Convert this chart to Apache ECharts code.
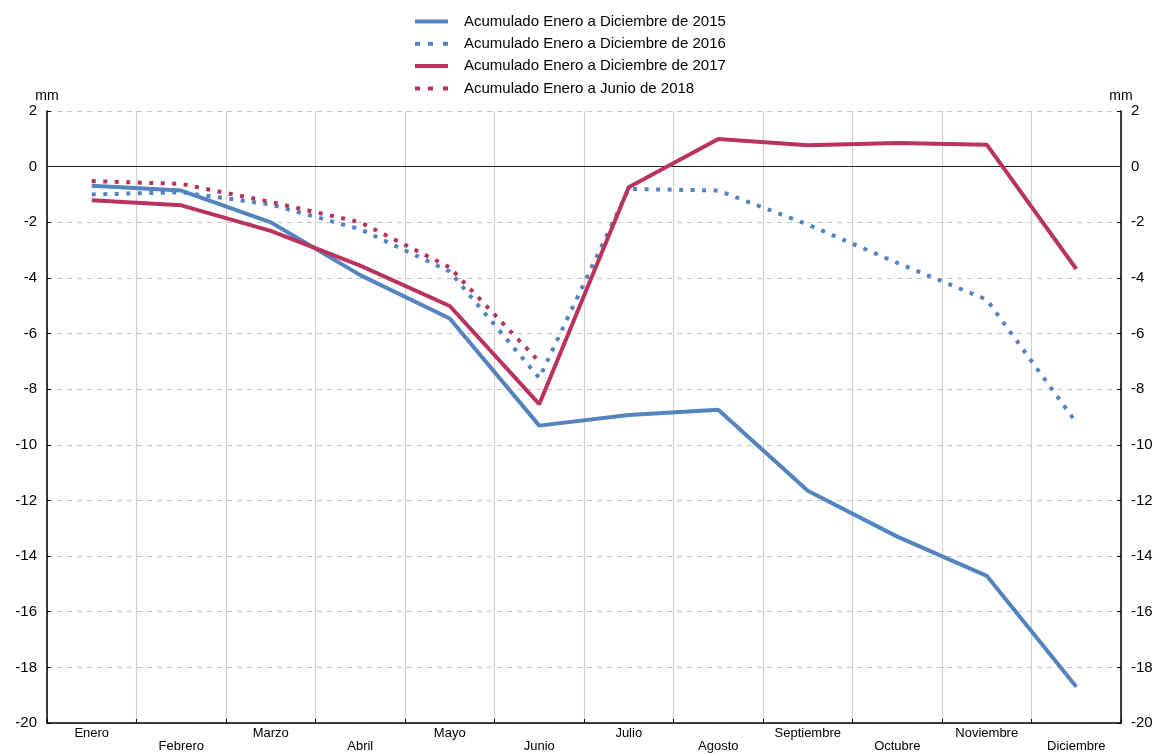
<!DOCTYPE html>
<html>
<head>
<meta charset="utf-8">
<script src="https://cdn.jsdelivr.net/npm/echarts@6/dist/echarts.min.js"></script>
<style>
html,body{margin:0;padding:0;background:#fff;}
#chart{width:1157px;height:753px;}
</style>
</head>
<body>
<div id="chart"></div>
<script>
var months = ['Enero','Febrero','Marzo','Abril','Mayo','Junio','Julio','Agosto','Septiembre','Octubre','Noviembre','Diciembre'];
var seriesNames = ['Acumulado Enero a Diciembre de 2015','Acumulado Enero a Diciembre de 2016','Acumulado Enero a Diciembre de 2017','Acumulado Enero a Junio de 2018'];
var v2015 = [-0.69, -0.86, -2.0, -3.9, -5.46, -9.31, -8.93, -8.74, -11.65, -13.3, -14.71, -18.7];
var v2016 = [-1.0, -0.92, -1.36, -2.25, -3.77, -7.6, -0.8, -0.86, -2.08, -3.46, -4.78, -9.2];
var v2017 = [-1.21, -1.39, -2.31, -3.56, -5.01, -8.54, -0.74, 0.99, 0.77, 0.85, 0.79, -3.68];
var v2018 = [-0.52, -0.62, -1.27, -2.0, -3.62, -7.01];
var yMin = -20, yMax = 2, yStep = 2;
var unitName = 'mm';

var blue = '#5484BF';
var red = '#B8345C';
var font = 'Liberation Sans, Arial, Helvetica, sans-serif';
var solidIcon = 'path://M0,0h33v4h-33z';
var dotIcon = 'path://M0,0h5v4h-5z M13,0h5v4h-5z M28,0h5v4h-5z';

function yAxisCfg(pos) {
  return {
    type: 'value', position: pos, min: yMin, max: yMax, interval: yStep,
    name: unitName, nameLocation: 'end', nameGap: -2,
    nameTextStyle: {color: '#000', fontSize: 14, fontFamily: font, align: 'center', padding: [0,0,0,0]},
    axisLine: {show: true, onZero: false, lineStyle: {color: '#000', width: 1.5}},
    axisTick: {show: true, inside: true, length: 4, lineStyle: {color: '#000'}},
    axisLabel: {color: '#000', fontSize: 15, fontFamily: font, margin: 10},
    splitLine: {show: pos === 'left', lineStyle: {color: '#c4c4c4', type: [5,5], width: 1}}
  };
}

function lineSeries(name, data, color, dotted) {
  return {
    name: name, type: 'line', data: data, symbol: 'none', smooth: false,
    yAxisIndex: 0,
    lineStyle: {color: color, width: 4, type: dotted ? [4, 7.5] : 'solid', cap: 'butt'},
    itemStyle: {color: color},
    z: 3
  };
}

var chart = echarts.init(document.getElementById('chart'), null, {renderer: 'canvas'});
var s0 = lineSeries(seriesNames[0], v2015, blue, false);
s0.markLine = {
  silent: true, symbol: ['none','none'], label: {show: false},
  lineStyle: {color: '#222', width: 1, type: 'solid'},
  data: [{yAxis: 0}], z: 1
};
chart.setOption({
  animation: false,
  backgroundColor: '#fff',
  textStyle: {fontFamily: font},
  legend: {
    orient: 'vertical', left: 415, top: 14, padding: 0,
    itemWidth: 33, itemHeight: 14, itemGap: 7.3, symbolKeepAspect: true,
    textStyle: {color: '#000', fontSize: 15, fontFamily: font, padding: [0,0,0,11]},
    data: [
      {name: seriesNames[0], icon: solidIcon},
      {name: seriesNames[1], icon: dotIcon},
      {name: seriesNames[2], icon: solidIcon},
      {name: seriesNames[3], icon: dotIcon}
    ]
  },
  grid: {left: 47, right: 36, top: 111, bottom: 26, containLabel: false},
  xAxis: {
    type: 'category', data: months, boundaryGap: true,
    axisLine: {show: true, onZero: false, lineStyle: {color: '#000', width: 1.5}},
    axisTick: {show: true, inside: true, length: 4, alignWithLabel: false, lineStyle: {color: '#000'}},
    axisLabel: {
      interval: 0, color: '#000', fontSize: 13, fontFamily: font, margin: 4, lineHeight: 13,
      formatter: function(v, i){ return i % 2 ? '\n' + v : v; }
    },
    splitLine: {show: true, interval: 0, lineStyle: {color: '#cfcfcf', width: 1.2}}
  },
  yAxis: [yAxisCfg('left'), yAxisCfg('right')],
  series: [
    s0,
    lineSeries(seriesNames[1], v2016, blue, true),
    lineSeries(seriesNames[2], v2017, red, false),
    lineSeries(seriesNames[3], v2018, red, true)
  ]
});
</script>
</body>
</html>
